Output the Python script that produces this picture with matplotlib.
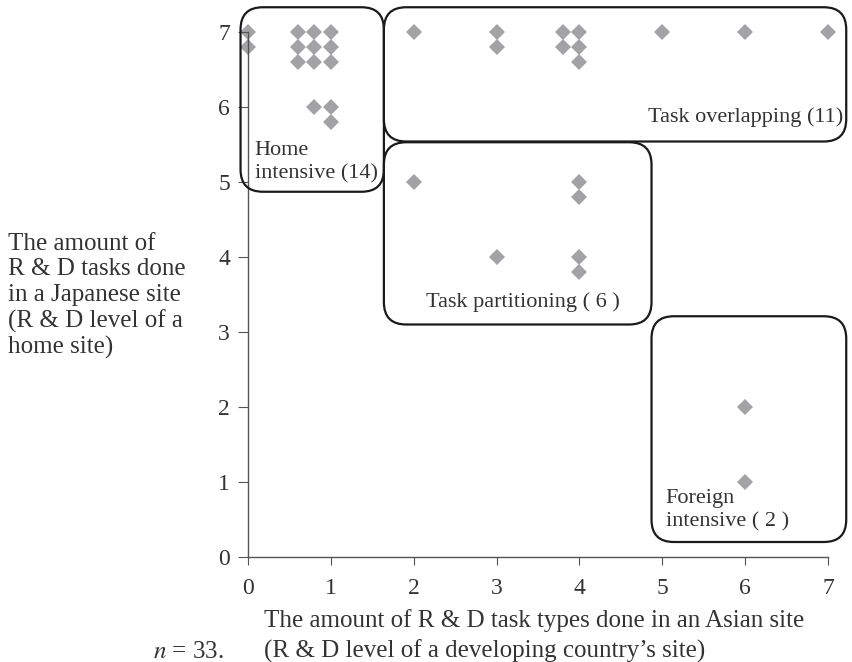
import matplotlib
matplotlib.use('Agg')
import matplotlib.pyplot as plt
from matplotlib.patches import FancyBboxPatch

# firms by (Asian site level, home site level), small offsets = stacked duplicates
home_x = [0, 0, 0.6, 0.8, 1.0, 0.6, 0.8, 1.0, 0.6, 0.8, 1.0, 0.8, 1.0, 1.0]
home_y = [7, 6.8, 7, 7, 7, 6.8, 6.8, 6.8, 6.6, 6.6, 6.6, 6.0, 6.0, 5.8]
overlap_x = [2, 3, 3, 3.8, 3.8, 4, 4, 4, 5, 6, 7]
overlap_y = [7, 7, 6.8, 7, 6.8, 7, 6.8, 6.6, 7, 7, 7]
partition_x = [2, 3, 4, 4, 4, 4]
partition_y = [5, 4, 5, 4.8, 4, 3.8]
foreign_x = [6, 6]
foreign_y = [2, 1]

# group boxes: (x0, y0, x1, y1)
boxes = [(-0.09, 4.87, 1.64, 7.33), (1.64, 5.54, 7.22, 7.33),
         (1.64, 3.1, 4.87, 5.53), (4.87, 0.2, 7.22, 3.21)]

ticks = list(range(8))

plt.rcParams['font.family'] = ['Liberation Serif', 'DejaVu Serif']
plt.rcParams['mathtext.fontset'] = 'stix'
text_col = '#333333'

fig = plt.figure(figsize=(8.52, 6.62), dpi=100)
ax = fig.add_axes([248 / 852, 1 - 557 / 662, 580 / 852, 525 / 662])

all_x = home_x + overlap_x + partition_x + foreign_x
all_y = home_y + overlap_y + partition_y + foreign_y
ax.plot(all_x, all_y, linestyle='none', marker='D', markersize=8.5,
        color='#a3a3a6', markeredgewidth=0, clip_on=False, zorder=1)

for x0, y0, x1, y1 in boxes:
    patch = FancyBboxPatch((x0, y0), x1 - x0, y1 - y0,
                           boxstyle='round,pad=0,rounding_size=0.27',
                           mutation_aspect=1.1, fill=False,
                           edgecolor='#1a1a1a', linewidth=1.6, clip_on=False, zorder=3)
    ax.add_patch(patch)

fs = 16
ax.text(0.08, 5.26, 'Home\nintensive (14)', ha='left', va='center',
        fontsize=fs, color=text_col, linespacing=1.3)
ax.text(7.18, 5.87, 'Task overlapping (11)', ha='right', va='center',
        fontsize=fs, color=text_col)
ax.text(3.32, 3.4, 'Task partitioning ( 6 )', ha='center', va='center',
        fontsize=fs, color=text_col)
ax.text(5.04, 0.62, 'Foreign\nintensive ( 2 )', ha='left', va='center',
        fontsize=fs, color=text_col, linespacing=1.3)

ax.set_xlim(0, 7)
ax.set_ylim(0, 7)
ax.set_xticks(ticks)
ax.set_yticks(ticks)
ax.tick_params(axis='x', direction='out', length=6, labelsize=17,
               colors='#555555', labelcolor=text_col, pad=9)
ax.tick_params(axis='y', direction='out', length=7, labelsize=17,
               colors='#555555', labelcolor=text_col, pad=6)
for side in ['top', 'right']:
    ax.spines[side].set_visible(False)
for side in ['left', 'bottom']:
    ax.spines[side].set_color('#555555')
    ax.spines[side].set_linewidth(1.0)
    ax.spines[side].set_zorder(2)

fig.text(8 / 852, 1 - 296 / 662,
         'The amount of\nR & D tasks done\nin a Japanese site\n(R & D level of a\nhome site)',
         ha='left', va='center', fontsize=18, color=text_col, linespacing=1.2)
fig.text(264 / 852, 1 - 636 / 662,
         'The amount of R & D task types done in an Asian site\n(R & D level of a developing country\u2019s site)',
         ha='left', va='center', fontsize=18, color=text_col, linespacing=1.42)
fig.text(224 / 852, 1 - 652 / 662, r'$n$ = 33.', ha='right', va='center',
         fontsize=18, color=text_col)

fig.savefig('out.png', dpi=100)
